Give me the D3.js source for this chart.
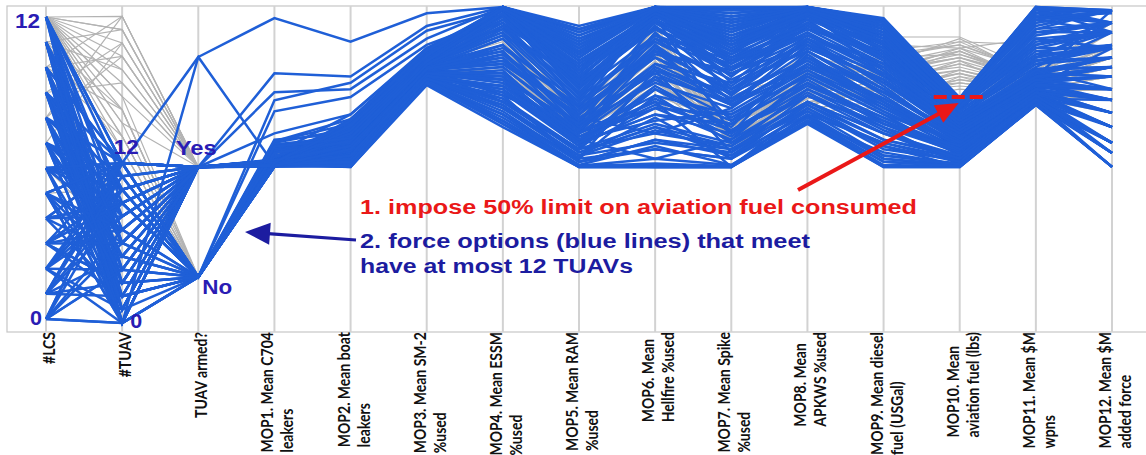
<!DOCTYPE html>
<html>
<head>
<meta charset="utf-8">
<script src="https://cdn.jsdelivr.net/npm/d3@7"></script>
<style>
  body { margin: 0; background: #ffffff; }
  svg { display: block; }
</style>
</head>
<body>
<svg id="chart" width="1146" height="455"></svg>
<script>
// ---- Parallel-coordinates data: one array per axis, one entry per force option ----
// Options 0-119 satisfy both filters, options 120-155 are filtered out.

const dimensions = ["lcs", "tuav", "armed", "mop1", "mop2", "mop3", "mop4", "mop5",
  "mop6", "mop7", "mop8", "mop9", "mop10", "mop11", "mop12"];

const axisTitles = [
  ["#LCS"], ["#TUAV"], ["TUAV armed?"],
  ["MOP1. Mean C704", "leakers"], ["MOP2. Mean boat", "leakers"],
  ["MOP3. Mean SM-2", "%used"], ["MOP4. Mean ESSM", "%used"],
  ["MOP5. Mean RAM", "%used"], ["MOP6. Mean", "Hellfire %used"],
  ["MOP7. Mean Spike", "%used"], ["MOP8. Mean", "APKWS %used"],
  ["MOP9. Mean diesel", "fuel (USGal)"], ["MOP10. Mean", "aviation fuel (lbs)"],
  ["MOP11. Mean $M", "wpns"], ["MOP12. Mean $M", "added force"]
];

const lcs = [
  12, 11, 10, 9, 8, 7, 6, 5, 4, 3, 2, 1, 0, 12, 10, 8, 6, 4, 2, 0,
  11, 9, 7, 5, 3, 1, 12, 9, 6, 3, 0, 11, 7, 2,
  12, 10, 8, 6, 4, 2, 0, 11, 9, 7, 5, 3, 1, 8,
  12, 10, 5, 7, 3, 9, 6, 1,
  12, 11, 10, 9, 8, 7, 6, 5, 4, 3, 2, 1, 0, 12, 11, 10, 9, 8, 7, 6,
  5, 4, 3, 2, 1, 0, 12, 10, 8, 6, 4, 2, 0, 11, 9, 7, 5, 3, 1, 12,
  12, 10, 8, 6, 4, 2, 0, 11, 9, 7, 5, 3, 1, 12, 9, 6, 3, 0, 11, 8, 5, 2, 10, 7,
  12, 12, 12, 12, 12, 12, 12, 11, 10, 11, 9, 8, 12, 10, 12, 7, 8, 5, 10, 3, 6, 12, 9, 4,
  12, 12, 12, 11, 10, 9, 12, 12, 11, 8, 10, 12
];
const tuav = [
  12, 7, 4, 0, 10, 5, 2, 12, 8, 3, 10, 9, 0, 6, 12, 2, 7, 12, 4, 10,
  0, 5, 10, 2, 9, 12, 4, 10, 0, 3, 12, 2, 8, 1,
  12, 0, 6, 10, 2, 9, 0, 4, 12, 5, 0, 10, 2, 11,
  12, 7, 12, 0, 10, 4, 0, 12,
  0, 2, 12, 6, 1, 11, 9, 4, 12, 7, 0, 5, 12, 3, 10, 1, 8, 12, 0, 11,
  6, 9, 2, 12, 8, 4, 11, 0, 3, 12, 5, 10, 7, 6, 1, 9, 0, 12, 3, 9,
  1, 3, 5, 7, 9, 11, 6, 1, 3, 5, 7, 9, 11, 8, 2, 12, 6, 4, 10, 0, 12, 8, 6, 3,
  23, 21, 19, 17, 15, 14, 13, 22, 20, 16, 18, 23, 16, 14, 22, 21, 12, 10, 8, 12, 6, 11, 12, 9,
  18, 20, 14, 19, 23, 21, 17, 15, 13, 20, 16, 22
];
// 0 = No, 1 = Yes
const armed = [
  1, 1, 1, 1, 1, 1, 1, 1, 1, 1, 1, 1, 1, 1, 1, 1, 1, 1, 1, 1,
  1, 1, 1, 1, 1, 1, 1, 1, 1, 1, 1, 1, 1, 1,
  0, 0, 0, 0, 0, 0, 0, 0, 0, 0, 0, 0, 0, 0,
  1, 0, 0, 1, 0, 1, 2, 2,
  1, 0, 1, 1, 0, 1, 0, 1, 1, 0, 0, 1, 1, 1, 0, 1, 1, 0, 1, 0,
  1, 1, 0, 1, 1, 0, 1, 0, 1, 1, 0, 1, 1, 0, 1, 0, 1, 1, 0, 1,
  1, 1, 0, 1, 1, 0, 1, 1, 0, 1, 1, 0, 1, 1, 0, 1, 1, 0, 1, 1, 0, 1, 1, 0,
  1, 1, 1, 1, 0, 0, 0, 1, 1, 0, 1, 1, 0, 0, 1, 1, 1, 0, 1, 1, 0, 1, 0, 1,
  1, 1, 0, 1, 1, 1, 0, 1, 0, 1, 0, 1
];
// MOP columns are on a common 0-100 relative scale
const mop1 = [
  50.5, 51, 49.8, 50.2, 51.5, 50, 49.6, 51.2, 50.8, 50.4, 49.5, 51.4, 50, 50.6, 49.9, 51.1, 50.3, 49.7, 51.3, 50.1,
  50.7, 49.6, 51.5, 50.2, 50.9, 49.9, 51, 50.5, 49.7, 51.2, 50.4, 50, 51.3, 49.8,
  49.5, 55, 49.6, 57, 50, 52, 49.5, 55.5, 49.8, 53, 49.5, 56, 50.5, 51,
  79, 70.5, 67, 60, 57.5, 73, 96.5, 50,
  50.3, 49.6, 51.6, 49.8, 54, 50.9, 49.5, 51, 50.1, 56.5, 50.2, 51.3, 49.7, 50.6, 52.5, 51.4, 50, 49.8, 50.8, 58,
  49.6, 51.1, 51, 50.4, 51.7, 53.5, 50.2, 49.5, 51.2, 49.9, 55, 50.7, 51.5, 50, 50.5, 52.8, 49.6, 51, 56, 50.3,
  50.9, 49.7, 54.5, 51.4, 50.2, 49.7, 51.6, 50, 57.5, 50.6, 49.9, 51.5, 51.1, 50.4, 53.8, 49.6, 51.3, 49.5, 50.7, 51.5, 55.8, 50.1, 49.8, 50.8,
  50.5, 51, 50, 50.8, 52, 54, 50.5, 51.2, 50.2, 53, 50.6, 51.4, 55, 51, 50.3, 51.1, 50.4, 53, 51, 50.7, 54, 50.1, 52, 51.3,
  50.6, 51.1, 52, 50.3, 51.4, 50.9, 53.5, 50.1, 55, 51.2, 52.5, 50.7
];
const mop2 = [
  49.4, 52, 55, 58, 50, 60, 53, 62, 51, 57, 54, 59, 49.4, 61, 56, 63, 50.5, 58.5, 52.5, 60.5,
  49.8, 54.5, 57.5, 51.5, 55.5, 64, 53.5, 59.5, 50.2, 56.5, 62.5, 52.8, 58, 54,
  50, 58, 52, 61.5, 53, 56, 49.6, 60, 51, 57, 63.5, 55, 58.8, 52,
  78, 76, 71.5, 66, 64.5, 74, 89, 53,
  51, 57, 60, 53, 62, 49.8, 55, 64.5, 52, 59, 56, 50.5, 61, 54, 58, 63, 49.6, 57.5, 53.5, 60,
  55, 62, 50, 58.5, 52, 66, 54.5, 59, 61.5, 51.5, 57, 63, 53, 56, 49.5, 60, 55.5, 62, 58, 52.5,
  53, 60, 57, 50.5, 62, 55, 58, 51.5, 63, 56, 59.5, 52, 61, 54.5, 57.5, 49.7, 60, 53, 64, 56, 58.5, 51, 55, 62.5,
  56, 58, 54, 60, 55, 57, 53, 59, 55, 61, 57, 54, 58, 56, 53.5, 60, 57, 55, 59, 54, 58, 56, 60, 55,
  55, 57, 53, 59, 56, 54, 58, 60, 55, 57, 56, 58
];
const mop3 = [
  75.3, 78, 80, 82, 76, 84, 77, 85, 79, 81, 78.5, 83, 76.5, 85.5, 80.5, 84.5, 77.5, 82.5, 79.5, 83.5,
  76, 81.5, 82, 78, 80, 86, 79, 84, 77, 81, 85, 78.8, 83, 80,
  76, 82, 78, 84.5, 79, 81, 76.2, 83.5, 77.8, 82, 85.8, 80.5, 83, 79.2,
  94, 92.5, 88, 86.5, 87, 90, 98, 79,
  77, 82, 84, 79, 85, 76, 80, 86, 78, 83, 81, 76.8, 84, 79, 82.5, 85, 75.8, 81, 78.5, 83.5,
  80, 84.5, 77, 82, 78, 87, 79, 83, 84.8, 77.5, 81.5, 85.5, 78, 80.5, 76, 83, 79.8, 84, 82, 77.2,
  78, 83, 82, 76.5, 85, 80, 82.5, 77.5, 85.2, 80.8, 83.8, 78.2, 84.2, 79.2, 81.8, 76, 83.2, 79, 86.2, 80.2, 82.8, 77.3, 80.4, 84.6,
  80, 82, 79, 83, 81, 80.5, 78.5, 82.5, 79.5, 83.5, 81, 78, 82, 80, 79, 84, 81, 80, 83, 79, 82, 80, 83, 79.5,
  80, 81, 79, 82, 80.5, 79.5, 81.5, 83, 80, 82, 79, 81
];
const mop4 = [
  62, 99.5, 70, 100, 66, 99.8, 75, 99, 85, 100, 80, 99.6, 64, 99.5, 72, 100, 68, 92, 78, 99.7,
  65, 88, 99.9, 70, 82, 99.4, 76, 96, 67, 90, 99.8, 73, 98, 84,
  69, 100, 74, 99.5, 79, 94, 63, 100, 71, 86, 99.6, 77, 97, 81,
  100, 99, 97, 93, 95, 100, 100, 78,
  70, 99.5, 100, 76, 99.8, 64, 88, 100, 73, 99, 93, 68, 99.6, 81, 97, 100, 63, 90, 77, 99.7,
  84, 100, 69, 95, 74, 99.3, 79, 98, 100, 71, 91, 99.9, 75, 86, 66, 99.5, 83, 100, 94, 72,
  73, 99.8, 96, 66, 100, 82, 91, 68, 99.5, 87, 99, 75, 100, 79, 94, 64, 99.7, 77, 100, 83, 98, 70, 85, 99.4,
  85, 92, 78, 95, 82, 88, 75, 90, 80, 93, 86, 77, 91, 83, 79, 94, 87, 84, 93, 80, 89, 83, 92, 81,
  84, 90, 80, 93, 86, 79, 88, 95, 82, 91, 85, 87
];
const mop5 = [
  49.4, 86, 55, 93, 52, 80, 60, 72, 65, 89, 58, 75, 49.4, 68, 62, 84, 53, 70, 57, 78,
  50, 63, 91, 54, 66, 74, 59, 82, 51, 67, 87, 56, 76, 61,
  52, 85, 57, 79, 60, 71, 49.6, 83, 55, 64, 77, 58, 73, 62,
  92, 88, 81, 76, 78, 86, 94, 61,
  55, 84, 90, 60, 79, 50, 68, 92, 57, 76, 71, 52, 87, 63, 74, 89, 49.4, 66, 59, 81,
  64, 93, 53, 72, 56, 83, 61, 77, 88, 54, 69, 85, 58, 62, 49.8, 80, 65, 86, 73, 51,
  58, 87, 75, 51, 90, 66, 78, 53, 85, 70, 82, 57, 93, 60, 80, 49.6, 84, 63, 91, 67, 76, 55, 69, 88,
  62, 65, 60, 67, 63, 66, 58, 64, 61, 68, 62, 59, 66, 60, 63, 67, 64, 62, 66, 61, 65, 63, 68, 60,
  61, 64, 59, 66, 62, 60, 65, 67, 61, 63, 60, 64
];
const mop6 = [
  49.4, 99.5, 97, 100, 80, 99, 70, 98, 60, 100, 52, 96, 49.4, 99.7, 88, 100, 65, 99, 75, 97,
  56, 92, 99.8, 62, 85, 99.4, 68, 98, 58, 94, 100, 78, 96, 82,
  72, 99.6, 66, 99, 86, 100, 50, 97.5, 74, 90, 98.5, 64, 95, 87,
  100, 99, 97, 93, 96, 100, 100, 81,
  60, 100, 99, 72, 98, 49.4, 84, 100, 66, 97, 90, 55, 99.5, 76, 94, 100, 49.4, 88, 70, 99,
  82, 100, 57, 96, 68, 98, 78, 93, 100, 62, 86, 99.7, 74, 80, 52, 99.2, 79, 100, 91, 58,
  69, 100, 93, 55, 99.6, 84, 97, 61, 99.8, 89, 98, 71, 100, 77, 95, 50.5, 99, 80, 100, 86, 96, 63, 91, 99.5,
  80, 88, 75, 92, 84, 86, 70, 90, 78, 94, 82, 72, 89, 76, 81, 93, 86, 83, 91, 77, 88, 85, 92, 79,
  82, 87, 74, 90, 85, 78, 88, 93, 80, 86, 76, 84
];
const mop7 = [
  49.4, 72, 60, 88, 54, 95, 49.4, 82, 68, 97, 58, 78, 49.4, 90, 64, 99.5, 52, 76, 62, 85,
  50, 70, 93, 56, 80, 87, 66, 91, 53, 74, 96, 60, 83, 71,
  57, 89, 63, 94, 69, 84, 49.6, 92, 61, 75, 86, 67, 81, 73,
  98, 93, 88, 84, 86, 96, 100, 70,
  56, 86, 94, 66, 80, 49.4, 74, 99, 60, 89, 82, 52, 96, 68, 78, 92, 49.4, 72, 63, 88,
  76, 97, 54, 84, 58, 90, 70, 81, 95, 53, 79, 93, 64, 73, 50, 87, 69, 98, 83, 55,
  61, 91, 80, 52, 97, 71, 86, 55, 93, 77, 88, 59, 99, 65, 83, 49.6, 90, 69, 95, 74, 85, 57, 79, 94,
  70, 72, 60, 58, 62, 57, 59, 61, 56, 60, 58, 63, 57, 61, 59, 62, 58, 60, 57, 59, 61, 62, 56, 58,
  58, 60, 57, 61, 59, 62, 56, 58, 60, 57, 63, 59
];
const mop8 = [
  66, 99.5, 85, 100, 72, 99, 68, 96, 90, 100, 78, 97, 63, 99.6, 82, 100, 70, 94, 86, 99.8,
  64, 88, 99.7, 74, 92, 99, 80, 98, 69, 87, 100, 76, 95, 84,
  73, 99.5, 79, 98.5, 83, 97, 65.5, 99.8, 75, 91, 99.2, 81, 93, 89,
  100, 99, 96, 93, 97, 100, 100, 86,
  70, 99.4, 100, 78, 98, 64, 90, 100, 74, 97, 93, 67, 99.6, 84, 95, 100, 63.5, 89, 77, 99,
  86, 100, 68, 94, 72, 98.5, 81, 92, 100, 66, 88, 99.8, 76, 83, 65, 97.5, 80, 100, 91, 69,
  72, 100, 91, 65, 99.7, 84, 96, 67, 99.5, 88, 98, 76, 100, 79, 94, 64, 99, 82, 100, 87, 95, 70, 90, 99.3,
  85, 80, 75, 72, 70, 68, 78, 74, 67, 76, 81, 79, 71, 73, 69, 77, 80, 76, 72, 70, 75, 78, 67, 73,
  74, 78, 70, 80, 72, 76, 68, 75, 71, 79, 73, 77
];
const mop9 = [
  57, 88, 70, 94, 62, 90, 56, 80, 75, 96, 66, 85, 49.4, 78, 68, 92, 60, 82, 72, 88,
  54, 74, 95, 64, 80, 86, 69, 91, 58, 77, 93, 63, 84, 73,
  61, 89, 67, 87, 71, 83, 52, 90, 65, 79, 92, 70, 85, 76,
  95, 93, 89, 86, 88, 94, 96.5, 74,
  58, 88, 95, 66, 86, 50, 78, 96, 62, 84, 81, 53, 92, 70, 83, 94, 49.4, 76, 64, 89,
  73, 95.5, 55, 85, 60, 90, 71, 79, 93, 52, 77, 91, 63, 69, 51, 87, 67, 94, 82, 56,
  63, 91, 82, 53, 95, 73, 87, 57, 93, 79, 89, 65, 96, 68, 85, 51, 90, 71, 94, 77, 84, 60, 81, 92,
  78, 82, 72, 85, 74, 70, 76, 80, 68, 83, 79, 73, 90.5, 71, 75, 84, 81, 78, 86, 73, 80, 77, 88, 75,
  76, 80, 71, 84, 77, 73, 79, 82, 74, 81, 72, 78
];
const mop10 = [
  52, 60, 55, 66, 50, 70, 49.4, 62, 58, 69, 53, 64, 49.4, 67, 56, 71, 51, 63, 57, 68,
  50, 59, 70.5, 54, 61, 66, 55.5, 69.5, 52.5, 60, 67.5, 53.5, 65, 58.5,
  51.5, 65.5, 55, 68.5, 57.5, 63.5, 49.6, 69, 54.5, 61.5, 70, 56.5, 64.5, 59.5,
  71, 70, 68, 66, 67, 70.5, 71.2, 58,
  53, 65, 70, 57, 64, 49.6, 61, 71, 54, 63, 62, 50.5, 69, 58, 62.5, 70.5, 49.4, 60, 55, 67,
  59, 71.3, 51.5, 64.5, 53, 68, 57.5, 61, 69.5, 50, 60.5, 68.5, 54.5, 56, 49.8, 66, 56.5, 70, 63, 51,
  56, 68, 64, 50.2, 70.8, 60, 66, 51, 69, 62, 67, 55, 71, 57, 65, 49.5, 68.5, 58.5, 70.2, 61, 65.5, 52, 63, 69.8,
  86, 90, 80, 88, 76, 74, 82, 84, 78, 89, 87, 79, 90.5, 77, 83, 85, 86, 81, 89, 75, 84, 80, 87, 79,
  80, 85, 76, 88, 82, 78, 84, 87, 79, 86, 77, 83
];
const mop11 = [
  70, 75, 72, 78, 70.5, 92, 69, 77, 73, 99.5, 71, 80, 69, 83, 72.5, 97, 70, 79, 74, 86,
  69.5, 75.5, 95, 71, 76.5, 81, 73, 88, 70, 74.5, 90, 71.5, 78.5, 73.5,
  70, 84, 72, 93, 73, 80.5, 69.2, 85, 71, 77, 98, 72.5, 79, 76,
  100, 96, 87, 82, 84, 97, 100, 74,
  70.5, 80, 96, 72, 79, 69.3, 75, 99, 71, 77, 76, 69.8, 90, 73, 78, 98, 69.2, 74.5, 71.5, 85,
  73.5, 100, 70.2, 79.5, 71, 88, 72.8, 76, 94, 69.6, 75, 92, 71.8, 73, 69.4, 83, 72.4, 97, 77.5, 70,
  71.2, 87, 78, 69.7, 95, 74, 82, 70.3, 91, 75.5, 84, 72, 99, 73, 80, 69.1, 89, 74, 96, 76, 83, 70.7, 77, 93,
  76, 78, 74, 80, 73, 72, 75, 77, 71, 79, 76, 73, 80, 74, 72, 78, 77, 75, 88, 73, 76, 74, 90, 74,
  75, 77, 73, 79, 76, 74, 78, 80, 72, 77, 73, 76
];
const mop12 = [
  62, 87, 53.8, 99, 57, 95, 49.4, 81, 66.5, 92, 70.6, 74, 57, 84, 62, 98, 53.8, 78, 66.5, 88,
  49.4, 70.6, 99, 57, 81, 92, 62, 95, 53.8, 74, 87, 66.5, 84, 70.6,
  57, 95, 62, 99, 66.5, 81, 53.8, 92, 57, 74, 95, 62, 78, 70.6,
  99, 92, 87, 84, 88, 95, 99, 66.5,
  57, 81, 99, 62, 84, 49.4, 70.6, 95, 53.8, 78, 74, 53.8, 92, 66.5, 81, 99, 49.4, 74, 62, 87,
  70.6, 95, 57, 84, 62, 92, 66.5, 78, 99, 53.8, 74, 92, 62, 70.6, 49.4, 88, 66.5, 95, 81, 57,
  62, 92, 81, 53.8, 99, 70.6, 87, 49.4, 95, 74, 88, 57, 99, 66.5, 84, 49.4, 92, 70.6, 99, 78, 87, 57, 74, 95,
  84, 92, 78, 87, 74, 70.6, 81, 88, 66.5, 95, 81, 74, 92, 78, 70.6, 84, 87, 81, 95, 74, 84, 78, 92, 70.6,
  81, 87, 74, 92, 84, 78, 88, 95, 70.6, 87, 74, 84
];

// Endpoint labels and the two brushing constraints
const lcsTicks = [0, 12];
const tuavTicks = [0, 12];
const armedTicks = [0, 1];
const armedNames = ["No", "Yes"];
const tuavMax = 12;        // at most 12 TUAVs
const fuelLimit = 71.5;    // 50% aviation fuel limit on the MOP10 scale

const columns = { lcs, tuav, armed, mop1, mop2, mop3, mop4, mop5, mop6, mop7,
  mop8, mop9, mop10, mop11, mop12 };

// ---- Layout ----
const svg = d3.select("#chart");
const plotTop = 6, plotBottom = 332, frameLeft = 7;

const x = d3.scalePoint().domain(dimensions).range([46, 1112]);
const y = {};
y.lcs = d3.scaleLinear().domain([0, 12]).range([319, 17]);
y.tuav = d3.scaleLinear().domain([0, 24]).range([323, 3]);
y.armed = d3.scaleLinear().domain([0, 1]).range([277, 167]);
dimensions.slice(3).forEach(d => { y[d] = d3.scaleLinear().domain([0, 100]).range([323, 7]); });

const BLUE = "#1f5fd7";
const GREY = "#b3b3b3";
const LABEL = "#2a1cb4";
const NAVY = "#1c1ca0";
const RED = "#ea1818";

// frame
svg.append("rect")
  .attr("x", frameLeft).attr("y", plotTop)
  .attr("width", 1200).attr("height", plotBottom - plotTop)
  .attr("fill", "none").attr("stroke", "#c6c6c6").attr("stroke-width", 1.2);

// vertical axes
svg.append("g").selectAll("line").data(dimensions).join("line")
  .attr("x1", d => x(d)).attr("x2", d => x(d))
  .attr("y1", plotTop).attr("y2", plotBottom)
  .attr("stroke", "#d2d2d2").attr("stroke-width", 2);

// option polylines
const n = d3.min(dimensions, d => columns[d].length);
const options = d3.range(n).map(i => ({
  values: dimensions.map(d => columns[d][i]),
  kept: tuav[i] <= tuavMax && mop10[i] <= fuelLimit
}));

const line = d3.line()
  .x((v, j) => x(dimensions[j]))
  .y((v, j) => y[dimensions[j]](v));

svg.append("g").attr("fill", "none").attr("stroke", GREY).attr("stroke-width", 1.2)
  .selectAll("path").data(options.filter(o => !o.kept)).join("path")
  .attr("d", o => line(o.values));

svg.append("g").attr("fill", "none").attr("stroke", BLUE).attr("stroke-width", 2.5)
  .attr("stroke-linejoin", "miter").attr("stroke-miterlimit", 10)
  .selectAll("path").data(options.filter(o => o.kept)).join("path")
  .attr("d", o => line(o.values));

// ---- endpoint labels ----
const tickFont = "bold 21px 'Liberation Sans', Arial, sans-serif";
function tickText(tx, ty, str, anchor, width) {
  svg.append("text")
    .attr("x", tx).attr("y", ty).attr("dy", "0.36em")
    .attr("text-anchor", anchor)
    .style("font", tickFont).attr("fill", LABEL)
    .attr("textLength", width).attr("lengthAdjust", "spacingAndGlyphs")
    .text(str);
}
tickText(x("lcs") - 6, y.lcs(lcsTicks[1]) + 3, String(lcsTicks[1]), "end", 25);
tickText(x("lcs") - 4, y.lcs(lcsTicks[0]) - 2, String(lcsTicks[0]), "end", 12);
tickText(x("tuav") + 4, y.tuav(tuavTicks[1]) - 17, String(tuavTicks[1]), "middle", 25);
tickText(x("tuav") + 8, y.tuav(tuavTicks[0]) - 3, String(tuavTicks[0]), "start", 12);
tickText(x("armed") - 2, y.armed(armedTicks[1]) - 20, armedNames[1], "middle", 41);
tickText(x("armed") + 4, y.armed(armedTicks[0]) + 9, armedNames[0], "start", 30);

// ---- rotated axis titles ----
const titleTop = 332;
dimensions.forEach((d, i) => {
  const lines = axisTitles[i];
  const g = svg.append("g");
  const offsets = lines.length === 1 ? [3] : [-7, 13];
  const texts = lines.map((s, k) => g.append("text")
    .style("font-family", "Lato, 'Open Sans', sans-serif")
    .style("font-weight", "bold").style("font-size", "14px")
    .attr("fill", "#111").text(s));
  const maxLen = d3.max(texts, t => t.node().getComputedTextLength());
  texts.forEach((t, k) => {
    t.attr("text-anchor", "start")
      .attr("transform", `translate(${x(d) + offsets[k] + 6},${titleTop + maxLen}) scale(1.2,1) rotate(-90)`);
  });
});

// ---- annotations ----
const yLimit = y.mop10(fuelLimit);
svg.append("line")
  .attr("x1", x("mop10") - 26).attr("x2", x("mop10") + 26)
  .attr("y1", yLimit).attr("y2", yLimit)
  .attr("stroke", RED).attr("stroke-width", 4).attr("stroke-dasharray", "13,5");

function arrow(x0, y0, x1, y1, color, w, headLen, headHalf) {
  const dx = x1 - x0, dy = y1 - y0, L = Math.hypot(dx, dy);
  const ux = dx / L, uy = dy / L, px = -uy, py = ux;
  const bx = x1 - ux * headLen, by = y1 - uy * headLen;
  svg.append("line").attr("x1", x0).attr("y1", y0).attr("x2", bx + ux * 2).attr("y2", by + uy * 2)
    .attr("stroke", color).attr("stroke-width", w);
  svg.append("path")
    .attr("d", `M${x1},${y1}L${bx + px * headHalf},${by + py * headHalf}L${bx - px * headHalf},${by - py * headHalf}Z`)
    .attr("fill", color);
}
arrow(798, 190, x("mop10") - 1, yLimit + 6, RED, 4, 23, 10);
arrow(356, 240, 245, 232, NAVY, 3.2, 25, 11);

const noteFont = "bold 20px 'Liberation Sans', Arial, sans-serif";
function note(tx, ty, str, color, width) {
  svg.append("text").attr("x", tx).attr("y", ty)
    .style("font", noteFont).attr("fill", color)
    .attr("textLength", width).attr("lengthAdjust", "spacingAndGlyphs")
    .text(str);
}
note(360, 214, "1. impose 50% limit on aviation fuel consumed", RED, 557);
note(360, 248, "2. force options (blue lines) that meet", NAVY, 450);
note(360, 273, "have at most 12 TUAVs", NAVY, 273);
</script>
</body>
</html>
